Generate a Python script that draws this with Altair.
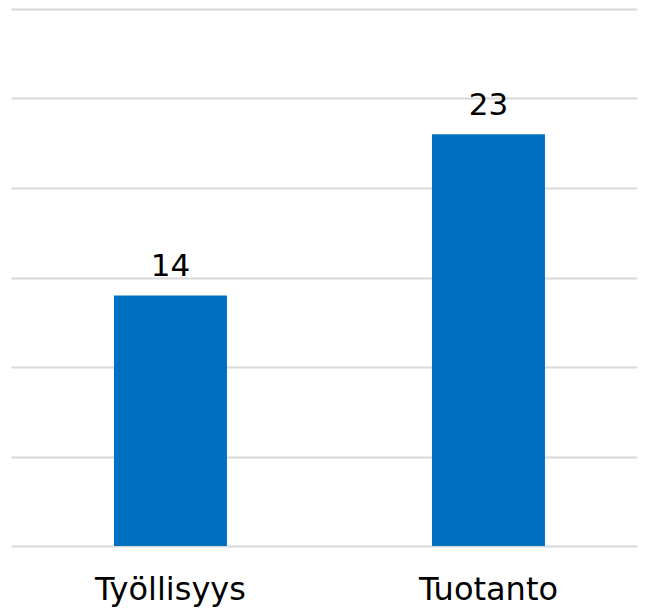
import altair as alt
import pandas as pd

categories = ["Työllisyys", "Tuotanto"]
values = [14, 23]

df = pd.DataFrame({"cat": categories, "val": values})

base = alt.Chart(df).encode(
    x=alt.X("cat:N", sort=categories, title=None,
            scale=alt.Scale(paddingInner=0.6447, paddingOuter=0.3066, align=0.528),
            axis=alt.Axis(labelAngle=0, labelFont="DejaVu Sans", labelFontSize=32,
                          labelColor="#000000", ticks=False, domain=False,
                          labelBaseline="alphabetic", labelPadding=53)),
    y=alt.Y("val:Q", title=None,
            scale=alt.Scale(domain=[0, 30], nice=False),
            axis=alt.Axis(values=[0, 5, 10, 15, 20, 25, 30], labels=False, ticks=False,
                          domain=False, grid=True, gridColor="#d9d9d9", gridWidth=2)),
)

bars = base.mark_bar(color="#0070C0")
text = base.mark_text(baseline="alphabetic", dy=-19, font="DejaVu Sans", fontSize=31,
                      color="#000000").encode(text="val:Q")

chart = (bars + text).properties(
    width=626, height=537,
    autosize=alt.AutoSizeParams(type="none"),
    padding={"left": 3, "top": 1, "right": 0, "bottom": 61},
).configure_view(stroke=None)

chart.save("out.html", embed_options={"renderer": "svg", "actions": False})
